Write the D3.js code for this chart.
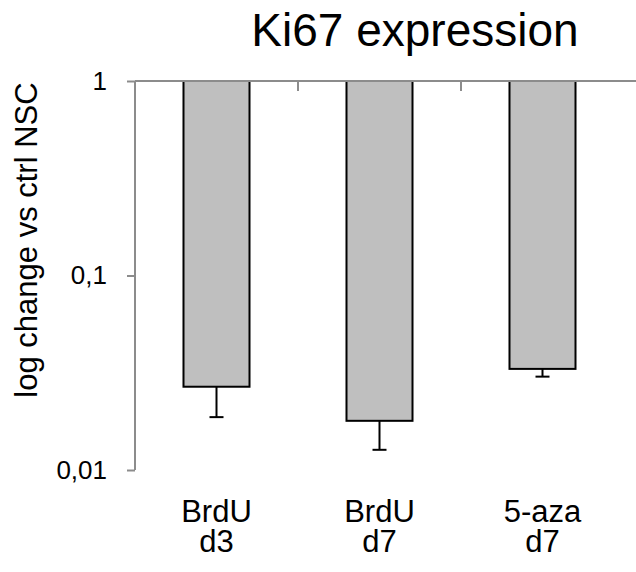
<!DOCTYPE html>
<html lang="en">
  <meta charset="utf-8">
  <style>
    body{ margin:0; background:#fff; }
    text{ font-family: Arial, "Liberation Sans", sans-serif; fill:#000; }
  </style>
  <body>
    <svg width="636" height="572"></svg>

    <script src="https://d3js.org/d3.v7.min.js"></script>
    <script>
      // data
      let categories = [['BrdU','d3'], ['BrdU','d7'], ['5-aza','d7']]
      let values = [0.0268, 0.0179, 0.0331]
      let errLow = [0.0187, 0.0127, 0.0302]
      let yTicks = [1, 0.1, 0.01]
      let yTickLabels = ['1', '0,1', '0,01']

      let svg = d3.select('svg')

      let x = d3.scaleBand()
                .domain(d3.range(categories.length))
                .range([135, 624])
                .padding(0)
      let barW = x.bandwidth() * 0.405

      let y = d3.scaleLog()
                .domain([1, 0.01])
                .range([81, 470])

      let axisColor = '#8c8c8c'

      // title
      svg.append('text')
         .attr('x', 415)
         .attr('y', 46)
         .attr('text-anchor', 'middle')
         .style('font-size', '46px')
         .text('Ki67 expression')

      // y axis title
      svg.append('text')
         .attr('transform', 'translate(37,240) rotate(-90)')
         .attr('text-anchor', 'middle')
         .style('font-size', '31px')
         .text('log change vs ctrl NSC')

      // bars hanging from 1
      let bars = svg.append('g')
      bars.selectAll('rect')
          .data(values).enter()
          .append('rect')
          .attr('x', (d, i) => x(i) + (x.bandwidth() - barW) / 2)
          .attr('y', y(1))
          .attr('width', barW)
          .attr('height', d => y(d) - y(1))
          .attr('fill', '#bfbfbf')
          .attr('stroke', '#000')
          .attr('stroke-width', 2)

      // error bars (lower part only)
      let err = svg.append('g').attr('stroke', '#000').attr('stroke-width', 2)
      values.forEach((v, i) => {
        let cx = x(i) + x.bandwidth() / 2
        err.append('line')
           .attr('x1', cx).attr('x2', cx)
           .attr('y1', y(v)).attr('y2', y(errLow[i]))
        err.append('line')
           .attr('x1', cx - 7).attr('x2', cx + 7)
           .attr('y1', y(errLow[i])).attr('y2', y(errLow[i]))
      })

      // y axis
      let yAxis = svg.append('g')
                     .attr('transform', 'translate(135,0)')
                     .call(d3.axisLeft(y).tickValues(yTicks)
                             .tickFormat((d, i) => yTickLabels[i])
                             .tickSize(8).tickPadding(20))
      yAxis.select('.domain').attr('stroke', axisColor).attr('stroke-width', 2)
           .attr('d', 'M0,81V470')
      yAxis.selectAll('.tick line').attr('stroke', axisColor).attr('stroke-width', 2)
      yAxis.selectAll('.tick text').style('font-size', '26px')
           .style('font-family', 'Arial, "Liberation Sans", sans-serif')

      // category axis along the top (value 1)
      let topAxis = svg.append('g').attr('stroke', axisColor).attr('stroke-width', 2)
      topAxis.append('line')
         .attr('x1', 135).attr('x2', 636)
         .attr('y1', y(1)).attr('y2', y(1))
      topAxis.selectAll('line.t')
         .data(d3.range(1, categories.length)).enter()
         .append('line')
         .attr('class', 't')
         .attr('x1', d => x(d)).attr('x2', d => x(d))
         .attr('y1', y(1)).attr('y2', y(1) + 10)

      // category labels at bottom
      let labels = svg.append('g')
                      .selectAll('text')
                      .data(categories).enter()
                      .append('text')
                      .attr('text-anchor', 'middle')
                      .style('font-size', '31px')
      labels.each(function(d, i) {
        let t = d3.select(this)
        d.forEach((line, j) => {
          t.append('tspan')
           .attr('x', x(i) + x.bandwidth() / 2)
           .attr('y', 522 + j * 30)
           .text(line)
        })
      })
    </script>
</body>
</html>
